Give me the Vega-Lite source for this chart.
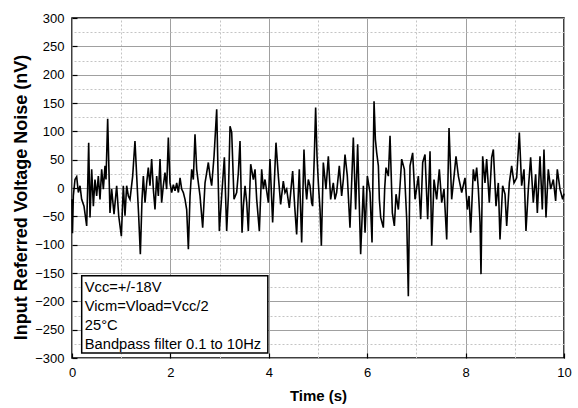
{
  "$schema": "https://vega.github.io/schema/vega-lite/v6.json",
  "width": 492,
  "height": 340,
  "autosize": {"type": "none"},
  "padding": {"left": 72, "top": 18, "right": 14, "bottom": 50},
  "background": "white",
  "config": {"view": {"stroke": "black", "strokeWidth": 1.5}, "font": "Liberation Sans"},
  "data": {"values": [
    {"t":0.00,"v":-20},{"t":0.01,"v":-80},{"t":0.027,"v":-14},{"t":0.061,"v":15},{"t":0.095,"v":20},{"t":0.129,"v":-8},{"t":0.163,"v":4},{"t":0.196,"v":-20},{"t":0.244,"v":-32},{"t":0.298,"v":-67},{"t":0.318,"v":-2},{"t":0.339,"v":80},{"t":0.366,"v":-52},{"t":0.40,"v":33},{"t":0.434,"v":-32},{"t":0.467,"v":15},{"t":0.501,"v":-14},{"t":0.535,"v":21},{"t":0.569,"v":-20},{"t":0.603,"v":33},{"t":0.637,"v":-2},{"t":0.671,"v":39},{"t":0.691,"v":15},{"t":0.725,"v":122},{"t":0.752,"v":27},{"t":0.772,"v":-44},{"t":0.806,"v":-2},{"t":0.854,"v":-46},{"t":0.908,"v":4},{"t":0.949,"v":-49},{"t":1.003,"v":-85},{"t":1.043,"v":4},{"t":1.077,"v":-49},{"t":1.111,"v":4},{"t":1.145,"v":-14},{"t":1.179,"v":-20},{"t":1.233,"v":21},{"t":1.280,"v":83},{"t":1.328,"v":-2},{"t":1.355,"v":-49},{"t":1.389,"v":-117},{"t":1.423,"v":-20},{"t":1.450,"v":21},{"t":1.484,"v":-26},{"t":1.518,"v":9},{"t":1.551,"v":36},{"t":1.585,"v":4},{"t":1.619,"v":51},{"t":1.653,"v":-2},{"t":1.687,"v":-38},{"t":1.721,"v":21},{"t":1.755,"v":-14},{"t":1.789,"v":51},{"t":1.822,"v":-26},{"t":1.856,"v":4},{"t":1.890,"v":27},{"t":1.924,"v":-2},{"t":1.958,"v":89},{"t":1.992,"v":9},
    {"t":2.026,"v":-8},{"t":2.060,"v":6},{"t":2.094,"v":-5},{"t":2.128,"v":9},{"t":2.162,"v":-8},{"t":2.196,"v":18},{"t":2.229,"v":-2},{"t":2.263,"v":-8},{"t":2.297,"v":-20},{"t":2.331,"v":-38},{"t":2.365,"v":-108},{"t":2.399,"v":-14},{"t":2.433,"v":33},{"t":2.466,"v":15},{"t":2.500,"v":95},{"t":2.534,"v":33},{"t":2.568,"v":9},{"t":2.602,"v":-14},{"t":2.656,"v":-70},{"t":2.704,"v":9},{"t":2.738,"v":27},{"t":2.771,"v":45},{"t":2.805,"v":21},{"t":2.839,"v":4},{"t":2.887,"v":56},{"t":2.941,"v":139},{"t":2.968,"v":27},{"t":2.995,"v":-76},{"t":3.042,"v":-14},{"t":3.097,"v":54},{"t":3.144,"v":-76},{"t":3.178,"v":-14},{"t":3.212,"v":109},{"t":3.246,"v":98},{"t":3.293,"v":-20},{"t":3.347,"v":-8},{"t":3.381,"v":27},{"t":3.415,"v":83},{"t":3.456,"v":-79},{"t":3.483,"v":-32},{"t":3.517,"v":4},{"t":3.551,"v":-26},{"t":3.584,"v":-76},{"t":3.632,"v":42},{"t":3.686,"v":15},{"t":3.720,"v":33},{"t":3.754,"v":-20},{"t":3.808,"v":-76},{"t":3.855,"v":33},{"t":3.889,"v":-2},{"t":3.923,"v":15},{"t":3.991,"v":-26},
    {"t":4.024,"v":51},{"t":4.078,"v":-61},{"t":4.112,"v":9},{"t":4.146,"v":80},{"t":4.194,"v":21},{"t":4.241,"v":-29},{"t":4.295,"v":12},{"t":4.329,"v":-8},{"t":4.363,"v":-2},{"t":4.417,"v":-35},{"t":4.451,"v":-2},{"t":4.485,"v":30},{"t":4.526,"v":-32},{"t":4.566,"v":-82},{"t":4.620,"v":33},{"t":4.668,"v":-96},{"t":4.715,"v":68},{"t":4.742,"v":9},{"t":4.770,"v":-20},{"t":4.803,"v":15},{"t":4.837,"v":4},{"t":4.871,"v":-26},{"t":4.891,"v":-32},{"t":4.925,"v":56},{"t":4.952,"v":142},{"t":4.980,"v":56},{"t":5.007,"v":9},{"t":5.041,"v":-38},{"t":5.068,"v":-102},{"t":5.108,"v":45},{"t":5.162,"v":-2},{"t":5.210,"v":56},{"t":5.257,"v":-20},{"t":5.311,"v":9},{"t":5.345,"v":-20},{"t":5.379,"v":-8},{"t":5.433,"v":39},{"t":5.481,"v":-14},{"t":5.515,"v":15},{"t":5.549,"v":59},{"t":5.596,"v":21},{"t":5.650,"v":-70},{"t":5.718,"v":89},{"t":5.765,"v":-38},{"t":5.806,"v":77},{"t":5.867,"v":-117},{"t":5.922,"v":4},{"t":5.956,"v":-79},
    {"t":6.003,"v":21},{"t":6.057,"v":-8},{"t":6.098,"v":-96},{"t":6.139,"v":153},{"t":6.166,"v":86},{"t":6.193,"v":62},{"t":6.227,"v":39},{"t":6.247,"v":-20},{"t":6.274,"v":-52},{"t":6.328,"v":-70},{"t":6.355,"v":-2},{"t":6.382,"v":36},{"t":6.430,"v":21},{"t":6.464,"v":92},{"t":6.511,"v":-44},{"t":6.552,"v":-67},{"t":6.586,"v":-11},{"t":6.633,"v":-38},{"t":6.667,"v":4},{"t":6.701,"v":51},{"t":6.755,"v":33},{"t":6.803,"v":-55},{"t":6.836,"v":-191},{"t":6.870,"v":39},{"t":6.924,"v":62},{"t":6.972,"v":-20},{"t":7.040,"v":21},{"t":7.087,"v":-55},{"t":7.128,"v":45},{"t":7.175,"v":59},{"t":7.229,"v":-55},{"t":7.277,"v":65},{"t":7.311,"v":-102},{"t":7.358,"v":15},{"t":7.412,"v":-20},{"t":7.466,"v":33},{"t":7.514,"v":-26},{"t":7.561,"v":-2},{"t":7.616,"v":-91},{"t":7.663,"v":106},{"t":7.717,"v":-20},{"t":7.765,"v":21},{"t":7.805,"v":56},{"t":7.853,"v":21},{"t":7.921,"v":-8},{"t":7.988,"v":18},
    {"t":8.036,"v":-38},{"t":8.070,"v":-14},{"t":8.103,"v":-79},{"t":8.157,"v":33},{"t":8.191,"v":12},{"t":8.225,"v":36},{"t":8.259,"v":-2},{"t":8.293,"v":-61},{"t":8.313,"v":-152},{"t":8.347,"v":56},{"t":8.394,"v":9},{"t":8.428,"v":51},{"t":8.482,"v":-26},{"t":8.530,"v":54},{"t":8.564,"v":68},{"t":8.618,"v":-32},{"t":8.665,"v":9},{"t":8.699,"v":-91},{"t":8.753,"v":4},{"t":8.801,"v":-11},{"t":8.835,"v":-67},{"t":8.889,"v":9},{"t":8.936,"v":39},{"t":8.984,"v":9},{"t":9.038,"v":18},{"t":9.092,"v":98},{"t":9.139,"v":4},{"t":9.187,"v":33},{"t":9.227,"v":-76},{"t":9.275,"v":-2},{"t":9.322,"v":54},{"t":9.376,"v":-26},{"t":9.424,"v":24},{"t":9.458,"v":-44},{"t":9.512,"v":56},{"t":9.559,"v":-38},{"t":9.593,"v":68},{"t":9.634,"v":-52},{"t":9.681,"v":33},{"t":9.729,"v":-2},{"t":9.783,"v":15},{"t":9.830,"v":-23},{"t":9.864,"v":33},{"t":9.918,"v":-2},{"t":9.973,"v":-20},{"t":10.0,"v":-10}
  ]},
  "layer": [
    {
      "mark": {"type": "line", "color": "black", "strokeWidth": 1.6},
      "encoding": {
        "x": {"field": "t", "type": "quantitative", "scale": {"domain": [0, 10], "nice": false},
          "axis": {"orient": "bottom", "title": "Time (s)", "values": [0, 2, 4, 6, 8, 10], "format": "d",
            "grid": true, "gridColor": "#a0a0a0", "gridWidth": 1, "domain": false,
            "tickColor": "black", "tickSize": -5, "tickWidth": 1.2,
            "labelFontSize": 13, "labelColor": "black", "labelPadding": 13, "labelFlush": false,
            "titleFontSize": 15, "titleFontWeight": "bold", "titleColor": "black", "titlePadding": 9}},
        "y": {"field": "v", "type": "quantitative", "scale": {"domain": [-300, 300], "nice": false},
          "axis": {"orient": "left", "title": "Input Referred Voltage Noise (nV)", "values": [-300, -250, -200, -150, -100, -50, 0, 50, 100, 150, 200, 250, 300],
            "grid": true, "gridColor": "#a0a0a0", "gridWidth": 1, "domain": false,
            "tickColor": "black", "tickSize": -5, "tickWidth": 1.2,
            "labelFontSize": 13, "labelColor": "black", "labelPadding": 13, "labelFlush": false,
            "titleFontSize": 18, "titleFontWeight": "bold", "titleColor": "black", "titlePadding": 4, "titleY": 179}}
      }
    },
    {
      "mark": {"type": "line", "opacity": 0},
      "encoding": {
        "x": {"field": "t", "type": "quantitative",
          "axis": {"orient": "top", "title": null, "values": [1, 3, 5, 7, 9], "grid": true, "gridColor": "#c4c4c4", "gridDash": [2, 2], "gridWidth": 1,
            "labels": false, "ticks": false, "domain": false}},
        "y": {"field": "v", "type": "quantitative",
          "axis": {"orient": "right", "title": null, "values": [-275, -225, -175, -125, -75, -25, 25, 75, 125, 175, 225, 275], "grid": true, "gridColor": "#c4c4c4", "gridDash": [2, 2], "gridWidth": 1,
            "labels": false, "ticks": false, "domain": false}}
      }
    },
    {
      "data": {"values": [{}]},
      "mark": {"type": "rect", "fill": "white", "stroke": "black", "strokeWidth": 1.5},
      "encoding": {
        "x": {"datum": 0.197, "type": "quantitative", "axis": null},
        "x2": {"datum": 3.98},
        "y": {"datum": -155, "type": "quantitative", "axis": null},
        "y2": {"datum": -291}
      }
    },
    {
      "data": {"values": [{}]},
      "mark": {"type": "text", "text": ["Vcc=+/-18V", "Vicm=Vload=Vcc/2", "25°C", "Bandpass filter 0.1 to 10Hz"],
        "align": "left", "baseline": "middle", "fontSize": 14.7, "lineHeight": 19, "color": "black", "font": "Liberation Sans"},
      "encoding": {
        "x": {"datum": 0.26, "type": "quantitative", "axis": null},
        "y": {"datum": -176, "type": "quantitative", "axis": null}
      }
    }
  ],
  "resolve": {"axis": {"x": "independent", "y": "independent"}}
}
